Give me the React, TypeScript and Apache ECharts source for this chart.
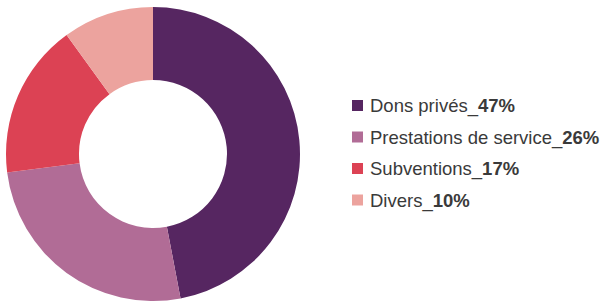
import React, { useEffect, useRef } from "react";
import * as echarts from "echarts";

const categories = ["Dons privés", "Prestations de service", "Subventions", "Divers"];
const values = [47, 26, 17, 10];
const colors = ["#562661", "#b16c96", "#dc4254", "#eca39e"];

export default function App() {
  const ref = useRef<HTMLDivElement>(null);
  useEffect(() => {
    const chart = echarts.init(ref.current!, null, { renderer: "svg" });
    chart.setOption({
      animation: false,
      color: colors,
      legend: {
        orient: "vertical",
        left: 347,
        top: 91,
        icon: "rect",
        itemWidth: 11,
        itemHeight: 11,
        itemGap: 12.5,
        formatter: (name: string) => {
          const i = categories.indexOf(name);
          return `{n|${name}_}{b|${values[i]}%}`;
        },
        textStyle: {
          rich: {
            n: { fontFamily: "Liberation Sans", fontSize: 18.5, color: "#3a3a3a", lineHeight: 20, padding: [0, 0, 0, 2] },
            b: { fontFamily: "Liberation Sans", fontSize: 18.5, fontWeight: "bold", color: "#3a3a3a", lineHeight: 20 },
          },
        },
        selectedMode: false,
      },
      series: [
        {
          type: "pie",
          center: [153, 154],
          radius: [74, 147],
          startAngle: 90,
          clockwise: true,
          label: { show: false },
          labelLine: { show: false },
          itemStyle: { borderWidth: 0 },
          data: categories.map((c, i) => ({ name: c, value: values[i] })),
        },
      ],
    });
    return () => chart.dispose();
  }, []);
  return <div ref={ref} style={{ width: 600, height: 301, position: "absolute", left: 0, top: 0 }} />;
}
